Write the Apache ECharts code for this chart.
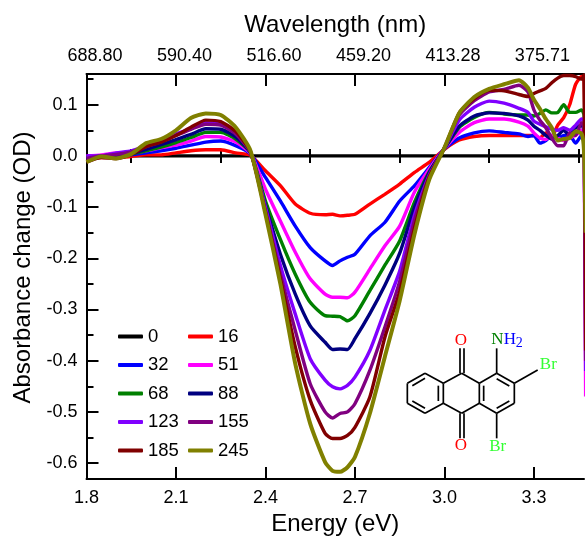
<!DOCTYPE html>
<html><head><meta charset="utf-8">
<style>html,body{margin:0;padding:0;background:#fff}#c{width:585px;height:538px}</style>
<script src="https://cdn.jsdelivr.net/npm/echarts@6/dist/echarts.min.js"></script>
</head><body><div id="c"></div>
<script>
const energy = [1.8,1.85,1.9,1.95,2.0,2.05,2.1,2.15,2.2,2.25,2.3,2.35,2.4,2.45,2.5,2.55,2.6,2.625,2.65,2.675,2.7,2.75,2.8,2.85,2.9,2.95,3.0,3.05,3.1,3.15,3.2,3.25,3.28,3.3,3.32,3.34,3.36,3.38,3.4,3.42,3.44,3.46,3.468,3.4735];
const s0   = [0,0,0,0,0,0,0,0,0,0,0,0,0,0,0,0,0,0,0,0,0,0,0,0,0,0,0,0,0,0,0,0,0,0,0,0,0,0,0,0,0,0,0,0];
const s16  = [-.006,-.003,-.003,-.001,.002,.002,.006,.01,.012,.012,.006,.001,-.029,-.058,-.094,-.112,-.115,-.114,-.117,-.116,-.114,-.094,-.075,-.055,-.032,-.012,.013,.031,.038,.04,.04,.04,.04,.04,.035,.045,.038,.06,.075,.1,.14,.155,.15,-.05];
const s32  = [-.002,0,.001,.002,.006,.01,.015,.021,.027,.029,.02,.004,-.042,-.088,-.137,-.179,-.205,-.214,-.205,-.198,-.192,-.156,-.13,-.088,-.058,-.022,.014,.035,.045,.049,.046,.043,.038,.04,.025,.03,.04,.035,.04,.04,.025,.04,.035,-.1];
const s51  = [0,.002,.006,.006,.01,.016,.021,.029,.038,.037,.027,.005,-.065,-.127,-.188,-.24,-.27,-.276,-.276,-.277,-.266,-.221,-.176,-.137,-.07,-.025,.014,.046,.065,.072,.072,.066,.058,.045,.035,.032,.04,.035,.03,.035,.04,.05,.04,-.47];
const s68  = [-.003,0,.002,.004,.01,.017,.026,.036,.046,.046,.033,.006,-.088,-.163,-.231,-.286,-.312,-.313,-.314,-.322,-.312,-.263,-.214,-.166,-.09,-.03,.014,.056,.075,.085,.082,.08,.08,.078,.083,.09,.084,.085,.1,.085,.085,.09,.08,-.1];
const s88  = [-.005,0,.003,.005,.013,.022,.032,.042,.053,.052,.037,.006,-.097,-.192,-.27,-.332,-.364,-.378,-.377,-.378,-.357,-.308,-.253,-.19,-.1,-.032,.015,.058,.078,.084,.083,.078,.07,.058,.05,.04,.033,.04,.05,.04,.055,.06,.05,-.1];
const s123 = [0,0,.006,.01,.02,.03,.043,.053,.065,.062,.045,.007,-.1,-.214,-.309,-.396,-.438,-.451,-.455,-.448,-.432,-.38,-.302,-.225,-.115,-.036,.015,.07,.095,.107,.103,.093,.085,.068,.062,.057,.052,.05,.055,.05,.06,.072,.07,-.42];
const s155 = [-.005,0,.003,.008,.018,.028,.04,.052,.062,.06,.043,.007,-.107,-.231,-.341,-.445,-.5,-.512,-.503,-.5,-.484,-.419,-.335,-.245,-.125,-.038,.015,.08,.108,.125,.13,.138,.125,.09,.07,.055,.035,.02,.02,.045,.04,.065,.06,-.4];
const s185 = [-.012,-.003,-.005,.003,.018,.027,.04,.056,.07,.067,.048,.008,-.11,-.24,-.373,-.477,-.542,-.552,-.552,-.546,-.53,-.471,-.355,-.265,-.14,-.04,.016,.084,.112,.128,.127,.12,.116,.122,.127,.132,.143,.152,.157,.157,.155,.15,.158,-.38];
const s245 = [-.012,-.001,-.005,.004,.025,.033,.05,.074,.083,.08,.056,.01,-.114,-.25,-.406,-.523,-.598,-.615,-.617,-.608,-.588,-.503,-.393,-.283,-.152,-.045,.016,.084,.115,.131,.14,.148,.133,.11,.092,.072,.055,.03,.033,.035,.048,.043,.01,-.15];

const seriesNames = ['0','16','32','51','68','88','123','155','185','245'];
const seriesValues = [s0,s16,s32,s51,s68,s88,s123,s155,s185,s245];
const seriesColors = ['#000000','#ff0000','#0000ff','#ff00ff','#008000','#000080','#8000ff','#800080','#800000','#808000'];
const legendLeft = ['0','32','68','123','185'];
const legendRight = ['16','51','88','155','245'];

const xMajor = [1.8,2.1,2.4,2.7,3.0,3.3];
const xMinor = [1.95,2.25,2.55,2.85,3.15,3.45];
const xLabels = ['1.8','2.1','2.4','2.7','3.0','3.3'];
const topLabels = ['688.80','590.40','516.60','459.20','413.28','375.71'];
const yMajor = [-0.6,-0.5,-0.4,-0.3,-0.2,-0.1,0,0.1];
const yMinor = [-0.55,-0.45,-0.35,-0.25,-0.15,-0.05,0.05,0.15];
const yLabels = ['-0.6','-0.5','-0.4','-0.3','-0.2','-0.1','0.0','0.1'];

const FONT = '"Liberation Sans", Arial, sans-serif';
const SERIF = '"Liberation Serif", "Times New Roman", serif';
const X0 = 1.8, X1 = 3.468, Y0 = -0.631, Y1 = 0.160;
const axLine = {show:true, onZero:false, lineStyle:{color:'#000', width:2}};
const nameStyle = {fontFamily:FONT, fontSize:24, color:'#000'};

function xAxis(pos, major, extra){
  return Object.assign({type:'value', position:pos, min:X0, max:X1, splitLine:{show:false},
    axisLine: major ? axLine : {show:false},
    axisTick:{show:true, inside:true, length: major?12:7, customValues: major?xMajor:xMinor, lineStyle:{color:'#000',width:2}},
    axisLabel: major ? {show:true, customValues:xMajor, margin:pos==='top'?9:10, fontFamily:FONT, fontSize:18, color:'#000', hideOverlap:false,
      padding: pos==='top' ? [0,0,0,17] : 0,
      formatter:(v)=>{const i=xMajor.findIndex(t=>Math.abs(t-v)<1e-6); return pos==='top'?topLabels[i]:xLabels[i];}} : {show:false}
  }, extra||{});
}
function yAxis(major, extra){
  return Object.assign({type:'value', position:'left', min:Y0, max:Y1, splitLine:{show:false},
    axisLine: major ? axLine : {show:false},
    axisTick:{show:true, inside:true, length: major?12:7, customValues: major?yMajor:yMinor, lineStyle:{color:'#000',width:2}},
    axisLabel: major ? {show:true, customValues:yMajor, margin:9, fontFamily:FONT, fontSize:18, color:'#000',
      formatter:(v)=>yLabels[yMajor.findIndex(t=>Math.abs(t-v)<1e-6)]} : {show:false}
  }, extra||{});
}

// molecule (drawing annotation), coordinates relative to its own box
const mx = 395, my = 320, k = 1/3;
const bonds = [
 [37,190,90,160],[90,160,145,190],[145,190,145,250],[145,250,90,280],[90,280,37,250],[37,250,37,190],
 [145,190,200,160],[200,160,253,190],[253,190,253,250],[253,250,200,280],[200,280,145,250],
 [253,190,305,160],[305,160,358,190],[358,190,358,250],[358,250,305,280],[305,280,253,250],
 [52,197,90,175],[52,243,90,265],[130,197,130,243],[266,197,266,243],[305,176,343,198],[305,265,343,243],
 [195,160,195,85],[207,160,207,85],[195,280,195,355],[207,280,207,355],
 [305,160,305,85],[358,190,428,150],[305,280,305,355]
];
const atoms = [
 ['O',198,62,'#ff0000',17],['O',198,378,'#ff0000',17],['N',307,60,'#008000',17],['H',345,60,'#0000ff',17],
 ['2',373,70,'#0000ff',14],['Br',460,133,'#33ff33',17],['Br',308,381,'#33ff33',17]
];
const graphics = bonds.map(b=>({type:'line', silent:true,
  shape:{x1:mx+b[0]*k,y1:my+b[1]*k,x2:mx+b[2]*k,y2:my+b[3]*k},
  style:{stroke:'#000',lineWidth:1.7}}));
atoms.forEach(a=>graphics.push({type:'text', silent:true, x:mx+a[1]*k, y:my+a[2]*k,
  style:{text:a[0], fill:a[3], font:a[4]+'px '+SERIF, align:'center', verticalAlign:'middle'}}));

const legendBase = {orient:'vertical', itemWidth:25, itemHeight:4, itemGap:9.5, icon:'roundRect', padding:0,
  textStyle:{fontFamily:FONT,fontSize:18.5,color:'#000',padding:[0,0,0,0]}, selectedMode:false, z:5};

const option = {
  animation:false, backgroundColor:'#fff',
  grid:{left:86.5, top:74, width:497.5, height:405, containLabel:false, outerBoundsMode:'none'},
  xAxis:[
    xAxis('bottom',true,{name:'Energy (eV)',nameLocation:'middle',nameGap:31,nameTextStyle:nameStyle}),
    xAxis('top',true,{name:'Wavelength (nm)',nameLocation:'middle',nameGap:37,nameTextStyle:nameStyle}),
    xAxis('bottom',false), xAxis('top',false)
  ],
  yAxis:[
    yAxis(true,{name:'Absorbance change (OD)',nameLocation:'middle',nameGap:48,nameRotate:90,
      nameTextStyle:Object.assign({padding:[0,0,0,18]},nameStyle)}),
    yAxis(false)
  ],
  legend:[
    Object.assign({left:118, top:327, data:legendLeft.map(n=>({name:n}))},legendBase),
    Object.assign({left:188, top:327, data:legendRight.map(n=>({name:n}))},legendBase)
  ],
  series: seriesNames.map((n,i)=>({
    name:n, type:'line', xAxisIndex:0, yAxisIndex:0, showSymbol:false, symbol:'none', smooth:0.2, clip:true,
    color:seriesColors[i], lineStyle:{color:seriesColors[i], width:i===9?4:3.4},
    data: energy.map((e,j)=>[e,seriesValues[i][j]])
  })),
  graphic:graphics
};
echarts.init(document.getElementById('c'),null,{renderer:'canvas'}).setOption(option);
</script></body></html>
